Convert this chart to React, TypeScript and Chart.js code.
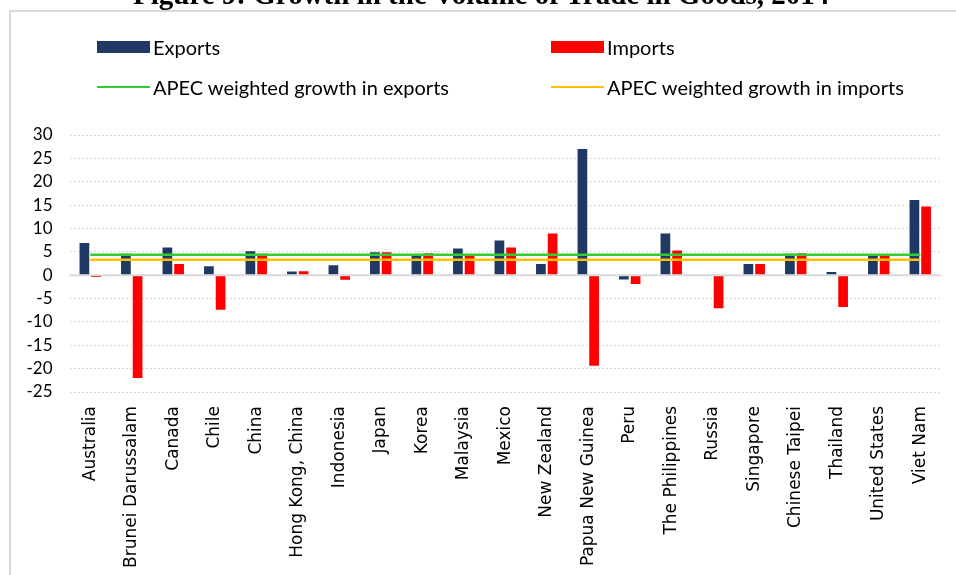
import React, { useEffect, useRef } from "react";
import { Chart, registerables } from "chart.js";

Chart.register(...registerables);

const TITLE = "Figure 9: Growth in the Volume of Trade in Goods, 2014";

const categories = [
  "Australia",
  "Brunei Darussalam",
  "Canada",
  "Chile",
  "China",
  "Hong Kong, China",
  "Indonesia",
  "Japan",
  "Korea",
  "Malaysia",
  "Mexico",
  "New Zealand",
  "Papua New Guinea",
  "Peru",
  "The Philippines",
  "Russia",
  "Singapore",
  "Chinese Taipei",
  "Thailand",
  "United States",
  "Viet Nam",
];

const exportsGrowth = [6.9, 4.6, 5.9, 1.9, 5.1, 0.8, 2.1, 4.9, 4.4, 5.7, 7.4, 2.4, 27.0, -0.9, 8.9, 0, 2.4, 4.6, 0.7, 4.3, 16.1];
const importsGrowth = [-0.4, -22.0, 2.4, -7.4, 4.6, 0.85, -1.0, 4.9, 4.7, 4.3, 5.9, 8.9, -19.4, -1.9, 5.3, -7.1, 2.4, 4.7, -6.8, 4.1, 14.7];

const apecExportsGrowth = 4.35;
const apecImportsGrowth = 3.3;

const yMin = -25;
const yMax = 30;
const yStep = 5;

const legendLabels = {
  exports: "Exports",
  imports: "Imports",
  apecExports: "APEC weighted growth in exports",
  apecImports: "APEC weighted growth in imports",
};

const COLORS = {
  exports: "#203864",
  imports: "#FF0000",
  apecExports: "#33CC33",
  apecImports: "#FFC000",
  grid: "#D9D9D9",
};

const zeroLinePlugin = {
  id: "zeroLine",
  afterDatasetsDraw(chart: any) {
    const y = chart.scales.y.getPixelForValue(0);
    const { left, right } = chart.chartArea;
    const ctx = chart.ctx;
    ctx.save();
    ctx.strokeStyle = COLORS.grid;
    ctx.lineWidth = 2;
    ctx.beginPath();
    ctx.moveTo(left, y);
    ctx.lineTo(right, y);
    ctx.stroke();
    ctx.restore();
  },
};

const legendFont = "Lato, 'Noto Sans', sans-serif";

function LegendItem(props: { left: number; top: number; kind: "box" | "line"; color: string; label: string }) {
  const { left, top, kind, color, label } = props;
  return (
    <div style={{ position: "absolute", left, top, height: 24, display: "flex", alignItems: "center" }}>
      <div
        style={{
          width: 53,
          height: kind === "box" ? 12 : 2.5,
          background: color,
          marginRight: 3,
        }}
      />
      <span style={{ fontFamily: legendFont, fontSize: 20, color: "#000", whiteSpace: "nowrap", lineHeight: "24px" }}>
        {label}
      </span>
    </div>
  );
}

export default function App() {
  const canvasRef = useRef<HTMLCanvasElement | null>(null);

  useEffect(() => {
    if (!canvasRef.current) return;
    const chart = new Chart(canvasRef.current, {
      type: "bar",
      data: {
        labels: categories,
        datasets: [
          {
            type: "line",
            label: legendLabels.apecExports,
            data: categories.map(() => apecExportsGrowth),
            borderColor: COLORS.apecExports,
            backgroundColor: COLORS.apecExports,
            borderWidth: 2.5,
            pointRadius: 0,
            order: 0,
          } as any,
          {
            type: "line",
            label: legendLabels.apecImports,
            data: categories.map(() => apecImportsGrowth),
            borderColor: COLORS.apecImports,
            backgroundColor: COLORS.apecImports,
            borderWidth: 2.5,
            pointRadius: 0,
            order: 0,
          } as any,
          {
            type: "bar",
            label: legendLabels.exports,
            data: exportsGrowth,
            backgroundColor: COLORS.exports,
            borderWidth: 0,
            categoryPercentage: 0.564,
            barPercentage: 0.83,
            order: 1,
          },
          {
            type: "bar",
            label: legendLabels.imports,
            data: importsGrowth,
            backgroundColor: COLORS.imports,
            borderWidth: 0,
            categoryPercentage: 0.564,
            barPercentage: 0.83,
            order: 1,
          },
        ],
      },
      options: {
        responsive: false,
        animation: false,
        layout: { padding: { left: 10, right: 15, top: 135, bottom: 0 } },
        plugins: {
          legend: { display: false },
          tooltip: { enabled: false },
          title: { display: false },
        },
        scales: {
          x: {
            grid: { display: false, drawTicks: false },
            border: { display: false },
            ticks: {
              autoSkip: false,
              minRotation: 90,
              maxRotation: 90,
              padding: 14,
              color: "#000",
              font: { family: "'DejaVu Sans', sans-serif", size: 17 },
            },
            afterFit: (s: any) => {
              s.height = 183;
            },
          },
          y: {
            min: yMin,
            max: yMax,
            ticks: {
              stepSize: yStep,
              autoSkip: false,
              padding: 17,
              color: "#000",
              font: { family: "Lato, sans-serif", size: 17 },
            },
            grid: { color: COLORS.grid, lineWidth: 1, drawTicks: false },
            border: { display: false, dash: [2, 2] },
            afterFit: (s: any) => {
              s.width = 59.5;
            },
          },
        },
      },
      plugins: [zeroLinePlugin],
    });
    return () => chart.destroy();
  }, []);

  return (
    <div
      style={{
        position: "absolute",
        left: 0,
        top: 0,
        width: 956,
        height: 575,
        overflow: "hidden",
        background: "#fff",
      }}
    >
      <div
        style={{
          position: "absolute",
          left: 9,
          top: 10,
          width: 1000,
          height: 700,
          border: "2px solid #D9D9D9",
          boxSizing: "border-box",
        }}
      />
      <canvas
        ref={canvasRef}
        width={956}
        height={575}
        style={{ position: "absolute", left: 0, top: 0, display: "block" }}
      />
      <div
        style={{
          position: "absolute",
          left: 133,
          top: -20,
          fontFamily: "'Liberation Serif', 'Times New Roman', serif",
          fontWeight: "bold",
          fontSize: 29,
          lineHeight: "29px",
          whiteSpace: "nowrap",
          color: "#000",
        }}
      >
        {TITLE}
      </div>
      <LegendItem left={97} top={35} kind="box" color={COLORS.exports} label={legendLabels.exports} />
      <LegendItem left={551} top={35} kind="box" color={COLORS.imports} label={legendLabels.imports} />
      <LegendItem left={97} top={75} kind="line" color={COLORS.apecExports} label={legendLabels.apecExports} />
      <LegendItem left={551} top={75} kind="line" color={COLORS.apecImports} label={legendLabels.apecImports} />
    </div>
  );
}
